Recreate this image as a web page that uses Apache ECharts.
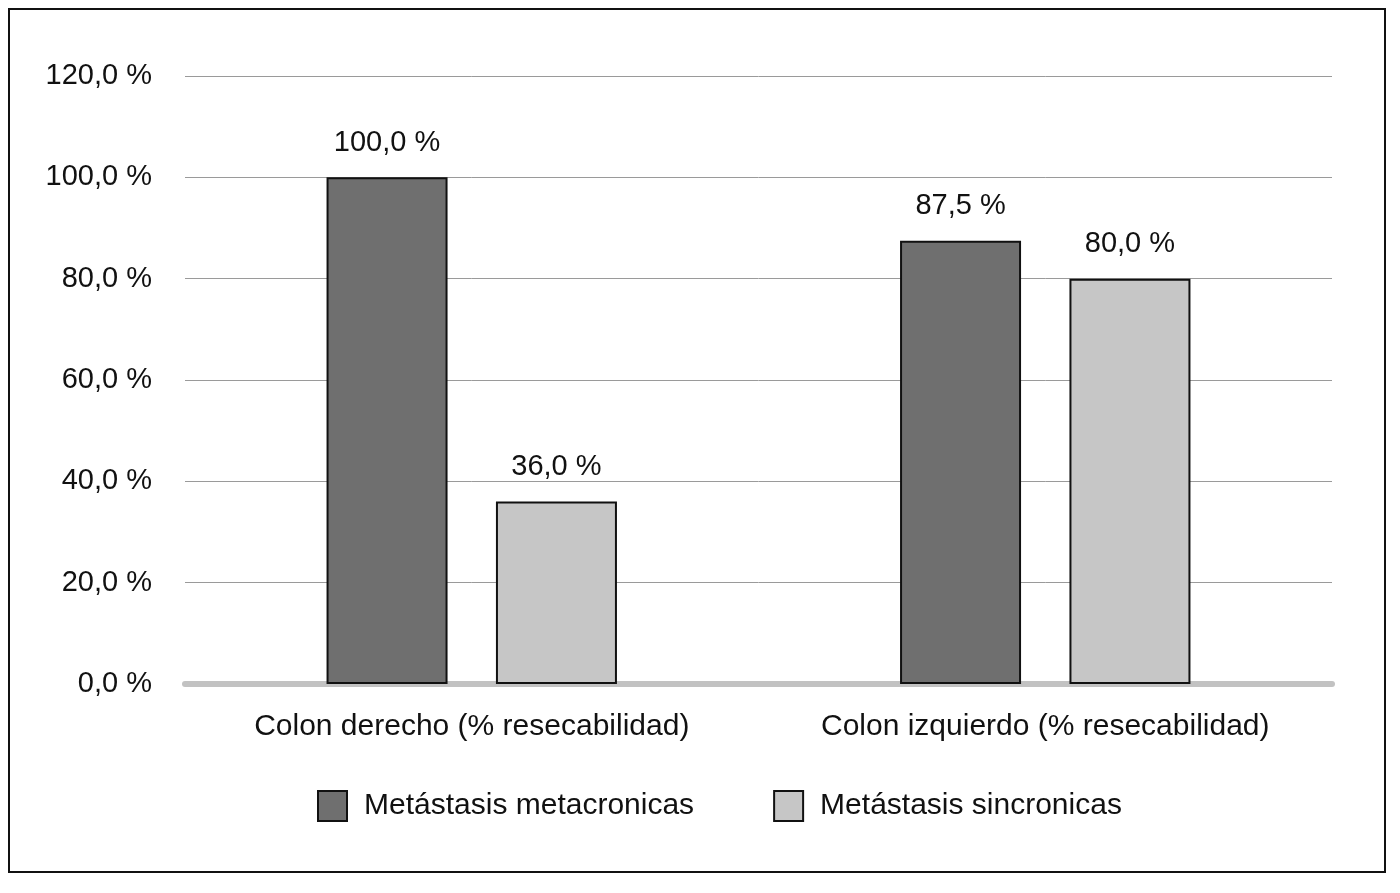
<!DOCTYPE html>
<html>
<head>
<meta charset="utf-8">
<script src="https://cdn.jsdelivr.net/npm/echarts@6/dist/echarts.min.js"></script>
<style>
  html, body { margin: 0; padding: 0; background: #fff; }
  #main { width: 1400px; height: 893px; }
</style>
</head>
<body>
<div id="main"></div>
<script>
// datos
var categorias = ['Colon derecho (% resecabilidad)', 'Colon izquierdo (% resecabilidad)'];
var metacronicas = [100.0, 87.5];
var sincronicas = [36.0, 80.0];
var nombres = ['Metástasis metacronicas', 'Metástasis sincronicas'];

function pct(v) {
  return v.toFixed(1).replace('.', ',') + ' %';
}

var fuente = '"Liberation Sans", Arial, sans-serif';
var myChart = echarts.init(document.getElementById('main'));

var labelTop = {
  show: true,
  position: 'top',
  distance: 20,
  color: '#111',
  fontSize: 29,
  fontFamily: fuente,
  formatter: function (p) { return pct(p.value); }
};

myChart.setOption({
  animation: false,
  backgroundColor: '#fff',
  graphic: [{
    type: 'rect',
    shape: { x: 9, y: 9, width: 1376, height: 863 },
    style: { fill: 'none', stroke: '#111', lineWidth: 2 },
    z: 100
  }],
  grid: { left: 185, right: 68, top: 76, bottom: 893 - 684 },
  legend: {
    data: nombres,
    icon: 'rect',
    left: 312,
    top: 785,
    itemWidth: 29,
    itemHeight: 30,
    itemGap: 79,
    textStyle: { fontSize: 30, color: '#111', fontFamily: fuente, padding: [0, 0, 0, 12] }
  },
  xAxis: {
    type: 'category',
    data: categorias,
    axisTick: { show: false },
    axisLine: { lineStyle: { color: '#c2c2c2', width: 6 } },
    axisLabel: { interval: 0, margin: 28, fontSize: 30, color: '#111', fontFamily: fuente }
  },
  yAxis: {
    type: 'value',
    min: 0,
    max: 120,
    interval: 20,
    axisLine: { show: false },
    axisTick: { show: false },
    axisLabel: {
      margin: 33,
      fontSize: 29,
      color: '#111',
      fontFamily: fuente,
      formatter: function (v) { return pct(v); }
    },
    splitLine: { lineStyle: { color: '#9a9a9a', width: 1 } }
  },
  series: [
    {
      name: nombres[0],
      type: 'bar',
      data: metacronicas,
      barWidth: 121,
      barGap: '40%',
      itemStyle: { color: '#6f6f6f', borderColor: '#111', borderWidth: 2 },
      label: labelTop
    },
    {
      name: nombres[1],
      type: 'bar',
      data: sincronicas,
      barWidth: 121,
      itemStyle: { color: '#c6c6c6', borderColor: '#111', borderWidth: 2 },
      label: labelTop
    }
  ]
});

window.addEventListener('resize', function () { myChart.resize(); });
</script>
</body>
</html>
